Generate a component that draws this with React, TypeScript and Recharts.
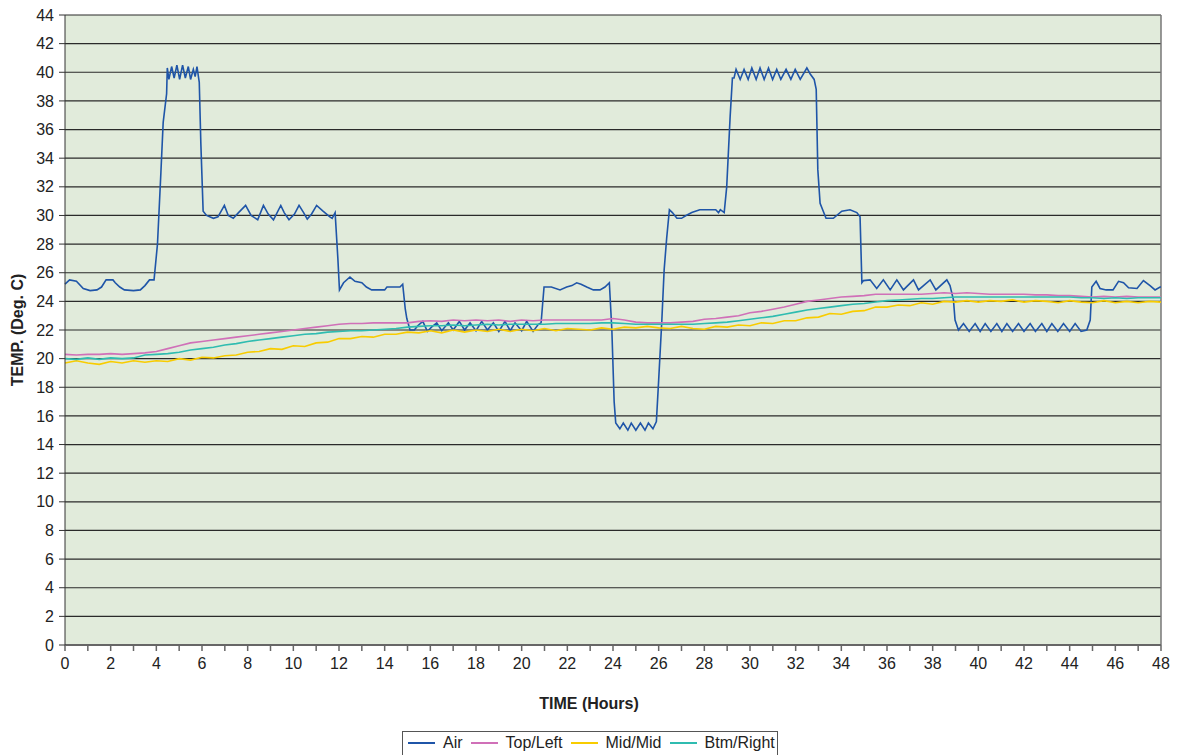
import { LineChart, Line, XAxis, YAxis, CartesianGrid, ReferenceLine } from "recharts"

// ── Data ───────────────────────────────────────────────────────────────────

// Air: irregular sampling so the on/off cycling is kept
const airHours = [
  0, 0.2, 0.5, 0.8, 1.1, 1.4, 1.6, 1.8, 2.1, 2.2, 2.4, 2.6, 3.0, 3.3, 3.5, 3.7, 3.9,
  4.05, 4.2, 4.3, 4.45, 4.48, 4.55, 4.67, 4.78, 4.9, 5.02, 5.15, 5.27, 5.4, 5.5, 5.62, 5.7,
  5.78, 5.88, 5.95, 6.05, 6.2, 6.5, 6.7, 6.98, 7.15, 7.37, 7.6, 7.91, 8.15, 8.44, 8.69, 8.9,
  9.13, 9.45, 9.6, 9.81, 10.05, 10.25, 10.45, 10.61, 10.8, 11.02, 11.3, 11.6, 11.7, 11.83,
  11.95, 12.02, 12.2, 12.48, 12.7, 13.0, 13.2, 13.43, 14.0, 14.1, 14.67, 14.79, 14.9, 14.97,
  15.11, 15.3, 15.45, 15.67, 15.87, 16.05, 16.28, 16.5, 16.79, 17.0, 17.27, 17.5, 17.74, 18.0,
  18.25, 18.5, 18.76, 19.0, 19.27, 19.5, 19.71, 20.0, 20.22, 20.5, 20.73, 20.85, 20.98, 21.3,
  21.68, 21.97, 22.2, 22.41, 22.6, 22.85, 23.14, 23.43, 23.65, 23.84, 23.95, 24.05, 24.12, 24.3,
  24.45, 24.65, 24.8, 25.0, 25.2, 25.4, 25.55, 25.75, 25.9, 26.0, 26.14, 26.24, 26.35, 26.47,
  26.6, 26.8, 27.0, 27.2, 27.45, 27.8, 28.2, 28.5, 28.62, 28.7, 28.87, 28.98, 29.13, 29.23,
  29.3, 29.39, 29.57, 29.74, 29.92, 30.08, 30.27, 30.44, 30.62, 30.81, 30.99, 31.17, 31.35,
  31.58, 31.79, 31.98, 32.2, 32.49, 32.63, 32.81, 32.9, 32.97, 33.07, 33.33, 33.65, 34.02,
  34.38, 34.68, 34.82, 34.9, 34.97, 35.26, 35.55, 35.84, 36.14, 36.43, 36.72, 37.16, 37.38,
  37.89, 38.14, 38.62, 38.76, 38.91, 38.98, 39.13, 39.35, 39.6, 39.86, 40.08, 40.3, 40.55,
  40.81, 41.03, 41.25, 41.5, 41.76, 42.0, 42.27, 42.5, 42.78, 43.0, 43.22, 43.48, 43.73, 44.0,
  44.24, 44.5, 44.75, 44.9, 44.97, 45.16, 45.33, 45.6, 45.9, 46.14, 46.36, 46.58, 46.95, 47.23,
  47.52, 47.74, 47.96, 48.0,
]
const airTemps = [
  25.2, 25.5, 25.4, 24.9, 24.75, 24.8, 25.0, 25.5, 25.5, 25.3, 25.0, 24.8, 24.75, 24.8, 25.1, 25.5, 25.5,
  28.0, 33.0, 36.5, 38.5, 40.3, 39.5, 40.4, 39.6, 40.5, 39.5, 40.5, 39.6, 40.4, 39.5, 40.2, 39.7,
  40.4, 39.3, 35.0, 30.3, 30.0, 29.8, 29.9, 30.7, 30.0, 29.8, 30.2, 30.7, 30.0, 29.7, 30.7, 30.1,
  29.7, 30.7, 30.2, 29.7, 30.1, 30.7, 30.2, 29.75, 30.1, 30.7, 30.3, 29.9, 29.8, 30.2,
  27.0, 24.8, 25.3, 25.7, 25.4, 25.3, 25.0, 24.8, 24.8, 25.0, 25.0, 25.2, 23.5, 22.8,
  22.0, 22.0, 22.3, 22.6, 21.9, 22.2, 22.5, 21.95, 22.5, 22.0, 22.6, 22.0, 22.5, 21.95,
  22.6, 22.0, 22.5, 21.9, 22.6, 21.95, 22.5, 21.95, 22.6, 21.9, 22.4, 22.5, 25.0, 25.0,
  24.8, 25.0, 25.1, 25.3, 25.2, 25.0, 24.8, 24.8, 25.0, 25.3, 22.0, 17.0, 15.5, 15.1,
  15.5, 15.0, 15.5, 15.0, 15.5, 15.0, 15.5, 15.1, 15.6, 18.5, 22.7, 26.2, 28.4, 30.4,
  30.2, 29.8, 29.8, 30.0, 30.2, 30.4, 30.4, 30.4, 30.2, 30.4, 30.2, 32.0, 36.9, 39.6,
  39.6, 40.2, 39.5, 40.2, 39.5, 40.3, 39.5, 40.3, 39.5, 40.3, 39.5, 40.2, 39.5,
  40.2, 39.5, 40.2, 39.5, 40.3, 39.9, 39.5, 38.8, 33.2, 30.85, 29.8, 29.8, 30.3,
  30.4, 30.2, 29.9, 25.3, 25.45, 25.5, 24.9, 25.5, 24.8, 25.5, 24.8, 25.5, 24.8,
  25.5, 24.8, 25.5, 25.1, 24.1, 22.7, 22.0, 22.45, 21.9, 22.45, 21.9, 22.45, 21.9,
  22.45, 21.9, 22.45, 21.9, 22.45, 21.9, 22.45, 21.9, 22.45, 21.9, 22.45, 21.9, 22.45, 21.9,
  22.45, 21.9, 22.0, 22.7, 25.0, 25.4, 24.9, 24.8, 24.8, 25.4, 25.3, 24.95, 24.9, 25.45,
  25.1, 24.8, 25.0, 25.0,
]

// Probes: every half hour, 0 → 48
const topLeft = [
  20.3, 20.25, 20.3, 20.3, 20.35, 20.3, 20.35, 20.4, 20.5, 20.7, 20.9, 21.1, 21.2, 21.3, 21.4, 21.5,
  21.6, 21.7, 21.8, 21.9, 22.0, 22.1, 22.2, 22.3, 22.4, 22.45, 22.45, 22.5, 22.5, 22.5, 22.5, 22.6,
  22.65, 22.6, 22.7, 22.65, 22.7, 22.65, 22.7, 22.6, 22.7, 22.65, 22.7, 22.7, 22.7, 22.7, 22.7, 22.7,
  22.8, 22.7, 22.55, 22.5, 22.5, 22.5, 22.55, 22.6, 22.75, 22.8, 22.9, 23.0, 23.2, 23.3, 23.45, 23.6,
  23.8, 24.0, 24.1, 24.2, 24.3, 24.35, 24.4, 24.5, 24.5, 24.5, 24.5, 24.5, 24.55, 24.6, 24.55, 24.6,
  24.55, 24.5, 24.5, 24.5, 24.5, 24.45, 24.45, 24.4, 24.4, 24.35, 24.3, 24.35, 24.3, 24.35, 24.3, 24.3,
  24.3,
]
const midMid = [
  19.7, 19.85, 19.7, 19.6, 19.8, 19.7, 19.85, 19.75, 19.85, 19.8, 20.0, 19.9, 20.1, 20.05, 20.2, 20.25,
  20.45, 20.5, 20.7, 20.65, 20.9, 20.85, 21.1, 21.15, 21.4, 21.4, 21.55, 21.5, 21.7, 21.7, 21.85, 21.8,
  21.95, 21.8, 22.0, 21.85, 22.0, 21.9, 22.05, 21.9, 22.05, 21.95, 22.1, 21.95, 22.1, 22.05, 22.0, 22.15,
  22.05, 22.2, 22.15, 22.25, 22.15, 22.1, 22.25, 22.1, 22.05, 22.25, 22.2, 22.35, 22.3, 22.5, 22.45, 22.65,
  22.65, 22.85, 22.9, 23.15, 23.1, 23.3, 23.35, 23.6, 23.6, 23.75, 23.7, 23.9, 23.8, 24.0, 23.95, 24.05,
  23.95, 24.05, 24.0, 24.1, 23.95, 24.05, 24.0, 23.9, 24.05, 23.95, 23.9, 24.05, 23.9, 24.0, 23.9, 24.0,
  23.95,
]
const btmRight = [
  20.0, 19.95, 20.05, 19.95, 20.05, 20.0, 20.05, 20.25, 20.3, 20.35, 20.45, 20.6, 20.7, 20.8, 20.95, 21.05,
  21.2, 21.3, 21.4, 21.5, 21.6, 21.7, 21.75, 21.85, 21.9, 21.95, 21.95, 22.0, 22.05, 22.1, 22.2, 22.25,
  22.3, 22.3, 22.35, 22.3, 22.35, 22.4, 22.35, 22.4, 22.4, 22.4, 22.4, 22.45, 22.45, 22.45, 22.45, 22.5,
  22.5, 22.45, 22.4, 22.4, 22.4, 22.4, 22.4, 22.4, 22.45, 22.5, 22.55, 22.65, 22.75, 22.85, 22.95, 23.1,
  23.25, 23.4, 23.5, 23.6, 23.7, 23.8, 23.85, 23.95, 24.05, 24.1, 24.15, 24.2, 24.2, 24.25, 24.3, 24.3,
  24.3, 24.3, 24.3, 24.3, 24.3, 24.3, 24.3, 24.3, 24.3, 24.25, 24.25, 24.2, 24.25, 24.2, 24.25, 24.25,
  24.25,
]

const Y_TICKS = [0, 2, 4, 6, 8, 10, 12, 14, 16, 18, 20, 22, 24, 26, 28, 30, 32, 34, 36, 38, 40, 42, 44]
const X_TICKS = Array.from({ length: 49 }, (_, i) => i)

// ── Styling ────────────────────────────────────────────────────────────────

const FONT = "'Liberation Sans', Arial, sans-serif"
const COLORS = {
  air: "#1f55a8",
  topLeft: "#d070b8",
  midMid: "#f8cc00",
  btmRight: "#2fbcb0",
}
const PLOT_BG = "#e1ebdb"

const airData = airHours.map((t, i) => ({ t, air: airTemps[i] }))
const probeData = topLeft.map((v, i) => ({
  t: i * 0.5,
  topLeft: v,
  midMid: midMid[i],
  btmRight: btmRight[i],
}))

function XTick({ x, y, payload }: any) {
  const v = payload.value
  if (v % 2 !== 0) return <g />
  return (
    <text x={x} y={y} dy="0.71em" textAnchor="middle" fontSize={16} fill="#222" fontFamily={FONT}>
      {v}
    </text>
  )
}

const LEGEND = [
  { key: "air", label: "Air" },
  { key: "topLeft", label: "Top/Left" },
  { key: "midMid", label: "Mid/Mid" },
  { key: "btmRight", label: "Btm/Right" },
] as const

export default function App() {
  return (
    <div style={{ position: "relative", width: 1170, height: 747, overflow: "hidden", fontFamily: FONT }}>
      <LineChart width={1170} height={747} margin={{ top: 7, right: 17, left: 0, bottom: 70 }}>
        <CartesianGrid vertical={false} stroke="#2a2a2a" strokeWidth={1.2} fill={PLOT_BG} />
        <XAxis
          type="number"
          dataKey="t"
          domain={[0, 48]}
          ticks={X_TICKS}
          interval={0}
          height={40}
          allowDuplicatedCategory={false}
          tick={<XTick />}
          tickSize={6}
          tickMargin={7}
          stroke="#666"
          strokeWidth={2}
          tickLine={{ stroke: "#666", strokeWidth: 1.5 }}
          label={{
            content: () => (
              <text x={581} y={701} textAnchor="middle" fontSize={16} fontWeight="bold" fill="#222" fontFamily={FONT}>
                TIME (Hours)
              </text>
            ),
          }}
        />
        <YAxis
          type="number"
          domain={[0, 44]}
          ticks={Y_TICKS}
          interval={0}
          width={57}
          tickSize={6}
          tickMargin={5}
          stroke="#333"
          tick={{ fontSize: 16, fill: "#222", fontFamily: FONT }}
          label={{
            content: () => (
              <text
                transform="translate(15,322) rotate(-90)"
                textAnchor="middle"
                fontSize={16}
                fontWeight="bold"
                fill="#222"
                fontFamily={FONT}
              >
                TEMP. (Deg. C)
              </text>
            ),
          }}
        />
        <ReferenceLine x={48} stroke="#777" strokeWidth={1.5} />
        <Line
          data={airData}
          dataKey="air"
          name="Air"
          type="linear"
          stroke={COLORS.air}
          strokeWidth={1.6}
          dot={false}
          isAnimationActive={false}
        />
        <Line
          data={probeData}
          dataKey="topLeft"
          name="Top/Left"
          type="linear"
          stroke={COLORS.topLeft}
          strokeWidth={1.6}
          dot={false}
          isAnimationActive={false}
        />
        <Line
          data={probeData}
          dataKey="midMid"
          name="Mid/Mid"
          type="linear"
          stroke={COLORS.midMid}
          strokeWidth={1.6}
          dot={false}
          isAnimationActive={false}
        />
        <Line
          data={probeData}
          dataKey="btmRight"
          name="Btm/Right"
          type="linear"
          stroke={COLORS.btmRight}
          strokeWidth={1.6}
          dot={false}
          isAnimationActive={false}
        />
      </LineChart>

      {/* legend box, cut off by the bottom of the page like the reference */}
      <div
        style={{
          position: "absolute",
          left: 394,
          top: 723,
          width: 376,
          height: 34,
          border: "1.5px solid #555",
          boxSizing: "border-box",
          display: "flex",
          alignItems: "flex-start",
          paddingTop: 2,
          paddingLeft: 5,
          fontSize: 16,
          color: "#222",
          whiteSpace: "nowrap",
        }}
      >
        {LEGEND.map((l) => (
          <span key={l.key} style={{ display: "inline-flex", alignItems: "center", marginRight: 8 }}>
            <span style={{ display: "inline-block", width: 27, height: 0, borderTop: `2px solid ${COLORS[l.key]}`, marginRight: 8 }} />
            {l.label}
          </span>
        ))}
      </div>
    </div>
  )
}
